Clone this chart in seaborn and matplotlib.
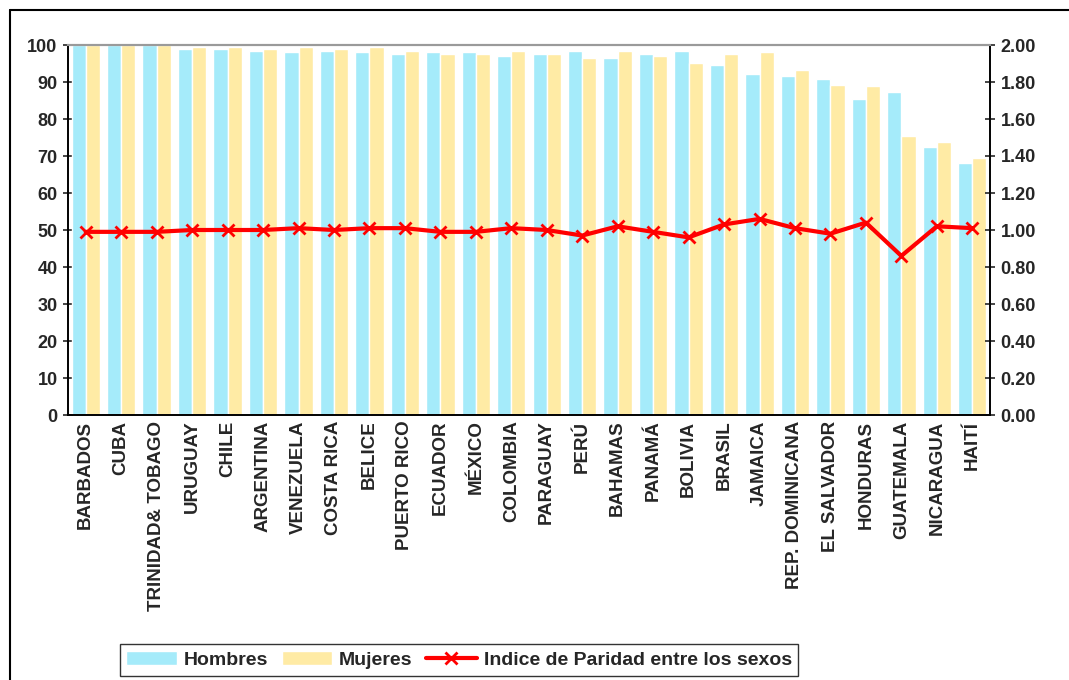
import numpy as np
import pandas as pd
import seaborn as sns
import matplotlib.pyplot as plt
from matplotlib.patches import Patch
from matplotlib.lines import Line2D
from matplotlib.ticker import FormatStrFormatter, MultipleLocator

sns.set_style("white")
plt.rcParams['font.family'] = ['Liberation Sans', 'DejaVu Sans']
plt.rcParams['font.weight'] = 'bold'

PAISES = ["BARBADOS", "CUBA", "TRINIDAD& TOBAGO", "URUGUAY", "CHILE", "ARGENTINA",
          "VENEZUELA", "COSTA RICA", "BELICE", "PUERTO RICO", "ECUADOR", "MÉXICO",
          "COLOMBIA", "PARAGUAY", "PERÚ", "BAHAMAS", "PANAMÁ", "BOLIVIA", "BRASIL",
          "JAMAICA", "REP. DOMINICANA", "EL SALVADOR", "HONDURAS", "GUATEMALA",
          "NICARAGUA", "HAITÍ"]
HOMBRES = [100.0, 100.0, 100.0, 98.9, 98.9, 98.4, 98.1, 98.4, 98.1, 97.6, 98.1, 98.1,
           97.0, 97.6, 98.4, 96.5, 97.6, 98.4, 94.6, 92.2, 91.6, 90.8, 85.4, 87.3,
           72.4, 68.1]
MUJERES = [100.0, 100.0, 100.0, 99.5, 99.5, 98.9, 99.5, 98.9, 99.5, 98.4, 97.6, 97.6,
           98.4, 97.6, 96.5, 98.4, 97.0, 95.1, 97.6, 98.1, 93.2, 89.2, 88.9, 75.4,
           73.8, 69.5]
IPG = [0.99, 0.99, 0.99, 1.00, 1.00, 1.00, 1.01, 1.00, 1.01, 1.01, 0.99, 0.99,
       1.01, 1.00, 0.97, 1.02, 0.99, 0.96, 1.03, 1.06, 1.01, 0.98, 1.04, 0.86,
       1.02, 1.01]

COLORS = {'Hombres': '#A5EBFA', 'Mujeres': '#FFEBA5'}

df = pd.DataFrame({
    'pais': PAISES * 2,
    'valor': HOMBRES + MUJERES,
    'sexo': ['Hombres'] * len(PAISES) + ['Mujeres'] * len(PAISES),
})

fig = plt.figure(figsize=(10.69, 6.8), dpi=100)
ax = fig.add_axes([68 / 1069, 1 - 415 / 680, (990 - 68) / 1069, (415 - 45) / 680])

sns.barplot(data=df, x='pais', y='valor', hue='sexo', palette=COLORS, width=0.8,
            saturation=1, legend=False, ax=ax)
ax.set_xlabel('')
ax.set_ylabel('')
ax.set_ylim(0, 100)
ax.set_xlim(-0.5, len(PAISES) - 0.5)
ax.yaxis.set_major_locator(MultipleLocator(10))
ax.tick_params(axis='y', direction='inout', length=7, width=1.2, labelsize=13, pad=4)
ax.set_xticks(np.arange(len(PAISES)))
ax.set_xticklabels(PAISES, rotation=90, fontsize=13.5, fontweight='bold')
ax.set_xticks(np.arange(-0.5, len(PAISES)), minor=True)
ax.tick_params(axis='x', which='major', length=0, pad=4)
ax.tick_params(axis='x', which='minor', direction='out', length=5, width=1)

ax2 = ax.twinx()
sns.pointplot(x=PAISES, y=IPG, ax=ax2, color='red', marker='x', markersize=9,
              markeredgewidth=2, linewidth=3, errorbar=None)
ax2.set_ylim(0, 2)
ax2.set_xlim(-0.5, len(PAISES) - 0.5)
ax2.yaxis.set_major_locator(MultipleLocator(0.2))
ax2.yaxis.set_major_formatter(FormatStrFormatter('%.2f'))
ax2.tick_params(axis='y', direction='inout', length=7, width=1.2, labelsize=13, pad=4)

for a in (ax, ax2):
    for side in ('left', 'right', 'bottom'):
        a.spines[side].set_color('black')
        a.spines[side].set_linewidth(1.2)
    a.spines['top'].set_color('#9a9a9a')
    a.spines['top'].set_linewidth(1.5)
for lab in ax.get_yticklabels() + ax2.get_yticklabels():
    lab.set_fontweight('bold')

# marco exterior
fx, fy = 9.5 / 1069, 1 - 10 / 680
fig.add_artist(Line2D([fx, fx], [0, fy], color='black', lw=1.5, transform=fig.transFigure))
fig.add_artist(Line2D([fx, 1], [fy, fy], color='black', lw=1.5, transform=fig.transFigure))

handles = [Patch(facecolor=COLORS['Hombres'], label='Hombres'),
           Patch(facecolor=COLORS['Mujeres'], label='Mujeres'),
           Line2D([], [], color='red', lw=3, marker='x', markersize=9, markeredgewidth=2,
                  label='Indice de Paridad entre los sexos')]
leg = fig.legend(handles=handles, loc='center', bbox_to_anchor=(459 / 1069, 1 - 660 / 680),
                 ncol=3, frameon=True, fancybox=False, edgecolor='black',
                 prop={'size': 14, 'weight': 'bold'}, handlelength=2.6, handleheight=0.75,
                 handletextpad=0.35, columnspacing=0.7, borderpad=0.35)
leg.get_frame().set_linewidth(1.0)

fig.savefig('out.png', dpi=100)
